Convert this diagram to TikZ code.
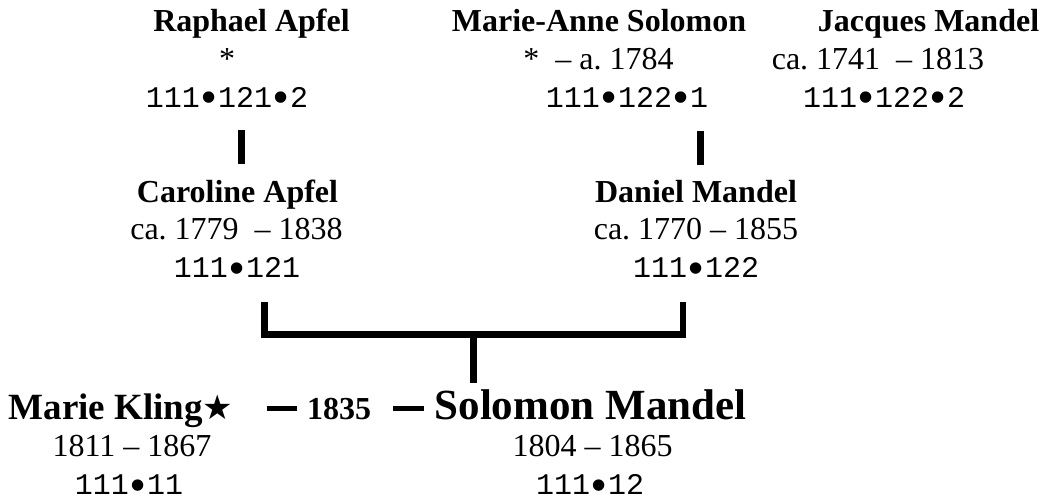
\documentclass[tikz,border=0pt]{standalone}
\usepackage{graphicx}
\usepackage{fontspec}
\setmainfont{Liberation Serif}
\setmonofont{Liberation Mono}
\newfontfamily\starfont{DejaVu Sans}
\newcommand{\mstar}{{\fontsize{34}{34}\selectfont\starfont ★}}
\newcommand{\bul}{\makebox[0.6em]{\raisebox{-5pt}[0pt][0pt]{\scalebox{1.4}{•}}}}
\frenchspacing

\begin{document}
\begin{tikzpicture}[
  x=1pt, y=-1pt,
  name_style/.style={font=\bfseries\fontsize{32}{38}\selectfont, inner sep=0pt, anchor=base},
  big_style/.style={font=\bfseries\fontsize{43}{50}\selectfont, inner sep=0pt, anchor=base},
  mid_style/.style={font=\bfseries\fontsize{37}{44}\selectfont, inner sep=0pt, anchor=base},
  date_style/.style={font=\fontsize{32}{38}\selectfont, inner sep=0pt, anchor=base},
  id_style/.style={font=\ttfamily\fontsize{30}{36}\selectfont, inner sep=0pt, anchor=base},
  bar_style/.style={line width=6.5pt},
  wed_style/.style={line width=5pt}
]
\useasboundingbox (0,0) rectangle (1048,500);

% Grandparents
\node[name_style] (ra) at (251.5,32) {Raphael Apfel};
\node[date_style] (ra_d) at (227,70) {*};
\node[id_style] (ra_id) at (227,107) {111\bul121\bul2};

\node[name_style] (mas) at (599,32) {Marie-Anne Solomon};
\node[date_style] (mas_d) at (598.5,70) {*~ – a. 1784};
\node[id_style] (mas_id) at (627,107) {111\bul122\bul1};

\node[name_style] (jm) at (928.5,32) {Jacques Mandel};
\node[date_style] (jm_d) at (878,70) {ca. 1741~ – 1813};
\node[id_style] (jm_id) at (884,107) {111\bul122\bul2};

% Parents
\node[name_style] (ca) at (237.5,202) {Caroline Apfel};
\node[date_style] (ca_d) at (236.5,239) {ca. 1779~ – 1838};
\node[id_style] (ca_id) at (237,277) {111\bul121};

\node[name_style] (dm) at (696,202) {Daniel Mandel};
\node[date_style] (dm_d) at (696,239) {ca. 1770 – 1855};
\node[id_style] (dm_id) at (696,277) {111\bul122};

% Couple
\node[mid_style] (mk) at (121,419) {Marie Kling\mstar};
\node[date_style] (mk_d) at (132,456) {1811 – 1867};
\node[id_style] (mk_id) at (129,494) {111\bul11};

\node[name_style] (yr) at (339,419) {1835};

\node[big_style] (sm) at (590.5,419) {Solomon Mandel};
\node[date_style] (sm_d) at (592.5,456) {1804 – 1865};
\node[id_style] (sm_id) at (590,494) {111\bul12};

% Lines
\draw[bar_style, shorten <=23pt, shorten >=15pt] ([xshift=4pt]ca.north |- ra_id.south) -- ([xshift=4pt]ca.north);
\draw[bar_style, shorten <=24pt, shorten >=15pt] ([xshift=4.5pt]dm.north |- mas_id.south) -- ([xshift=4.5pt]dm.north);

\coordinate (fork) at (473.5,334.5);
\draw[bar_style] ([xshift=27.5pt,yshift=-25pt]ca_id.south) |- (fork) -| ([xshift=-13pt,yshift=-25pt]dm_id.south);
\draw[bar_style, shorten >=6pt] (fork) -- (fork |- sm.north);

\draw[wed_style, shorten <=33pt, shorten >=10pt] (yr.west -| mk.east) -- (yr.west);
\draw[wed_style, shorten <=22pt, shorten >=10pt] (yr.east) -- (yr.east -| sm.west);
\end{tikzpicture}
\end{document}
